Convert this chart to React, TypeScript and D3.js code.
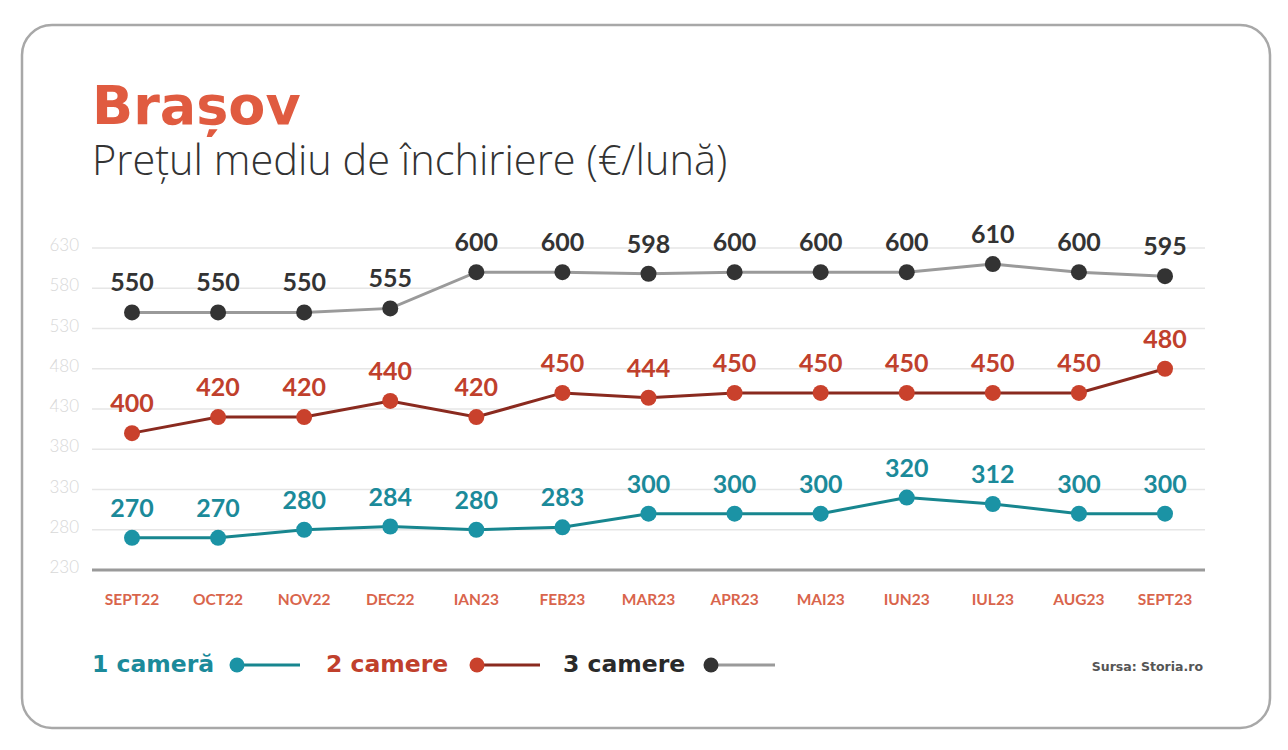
import React from "react";
import * as d3 from "d3";

const months = ["SEPT22","OCT22","NOV22","DEC22","IAN23","FEB23","MAR23","APR23","MAI23","IUN23","IUL23","AUG23","SEPT23"];
const camera1 = [270,270,280,284,280,283,300,300,300,320,312,300,300];
const camere2 = [400,420,420,440,420,450,444,450,450,450,450,450,480];
const camere3 = [550,550,550,555,600,600,598,600,600,600,610,600,595];
const yTicks = [230,280,330,380,430,480,530,580,630];

const seriesNames = ["1 camerӑ","2 camere","3 camere"];

const W = 1288, H = 750;

export default function App() {
  const x = d3.scalePoint<string>().domain(months).range([132, 1165]);
  const y = d3.scaleLinear().domain([230, 630]).range([570, 248]);
  const line = d3.line<number>().x((_, i) => x(months[i]) as number).y(d => y(d));

  const series = [
    { name: seriesNames[0], data: camera1, line: "#17868f", dot: "#1b93a5", label: "#1b8a9a", text: "#1b8a9a" },
    { name: seriesNames[1], data: camere2, line: "#8a2a1f", dot: "#c9412c", label: "#c0402c", text: "#c0402c" },
    { name: seriesNames[2], data: camere3, line: "#9a9a9a", dot: "#333333", label: "#333333", text: "#2a2a2a" },
  ];

  const legendPos = [
    { tx: 92, dx: 237, lx2: 300 },
    { tx: 326, dx: 477, lx2: 540 },
    { tx: 563, dx: 711, lx2: 775 },
  ];

  return (
    <svg width={W} height={H} style={{ position: "fixed", left: 0, top: 0, background: "#fff" }}>
      <rect x={22} y={25} width={1248} height={703} rx={30} ry={30} fill="#fff" stroke="#a8a8a8" strokeWidth={2.5} />
      <text x={92} y={124} fontFamily="DejaVu Sans" fontWeight={700} fontSize={54} fill="#e05b40">Brașov</text>
      <text x={92} y={175} fontFamily="Open Sans" fontWeight={300} fontSize={41.5} fill="#333">Prețul mediu de închiriere (€/lună)</text>

      {yTicks.map(t => (
        <g key={t}>
          {t !== 230 && <line x1={92} x2={1205} y1={y(t)} y2={y(t)} stroke="#e6e6e6" strokeWidth={1.5} />}
          <text x={79} y={y(t) + 3} textAnchor="end" fontFamily="Lato" fontWeight={300} fontSize={17} fill="#d8d8d8">{t}</text>
        </g>
      ))}
      <line x1={92} x2={1205} y1={y(230)} y2={y(230)} stroke="#9a9a9a" strokeWidth={3} />

      {months.map(m => (
        <text key={m} x={x(m)} y={605} textAnchor="middle" fontFamily="Lato" fontWeight={700} fontSize={15.5} fill="#d9654c">{m}</text>
      ))}

      {series.map(s => (
        <g key={s.name}>
          <path d={line(s.data) || ""} fill="none" stroke={s.line} strokeWidth={3} />
          {s.data.map((v, i) => (
            <g key={i}>
              <circle cx={x(months[i])} cy={y(v)} r={8} fill={s.dot} />
              <text x={x(months[i])} y={y(v) - 21} textAnchor="middle" fontFamily="Lato" fontWeight={700} fontSize={25} fill={s.label}>{v}</text>
            </g>
          ))}
        </g>
      ))}

      {series.map((s, i) => {
        const p = legendPos[i];
        return (
          <g key={s.name}>
            <text x={p.tx} y={672} fontFamily="DejaVu Sans" fontWeight={700} fontSize={23.5} fill={s.text}>{s.name}</text>
            <line x1={p.dx} x2={p.lx2} y1={665} y2={665} stroke={s.line} strokeWidth={3} />
            <circle cx={p.dx} cy={665} r={7.5} fill={s.dot} />
          </g>
        );
      })}

      <text x={1203} y={671} textAnchor="end" fontFamily="DejaVu Sans" fontWeight={700} fontSize={12.5} fill="#555">Sursa: Storia.ro</text>
    </svg>
  );
}
